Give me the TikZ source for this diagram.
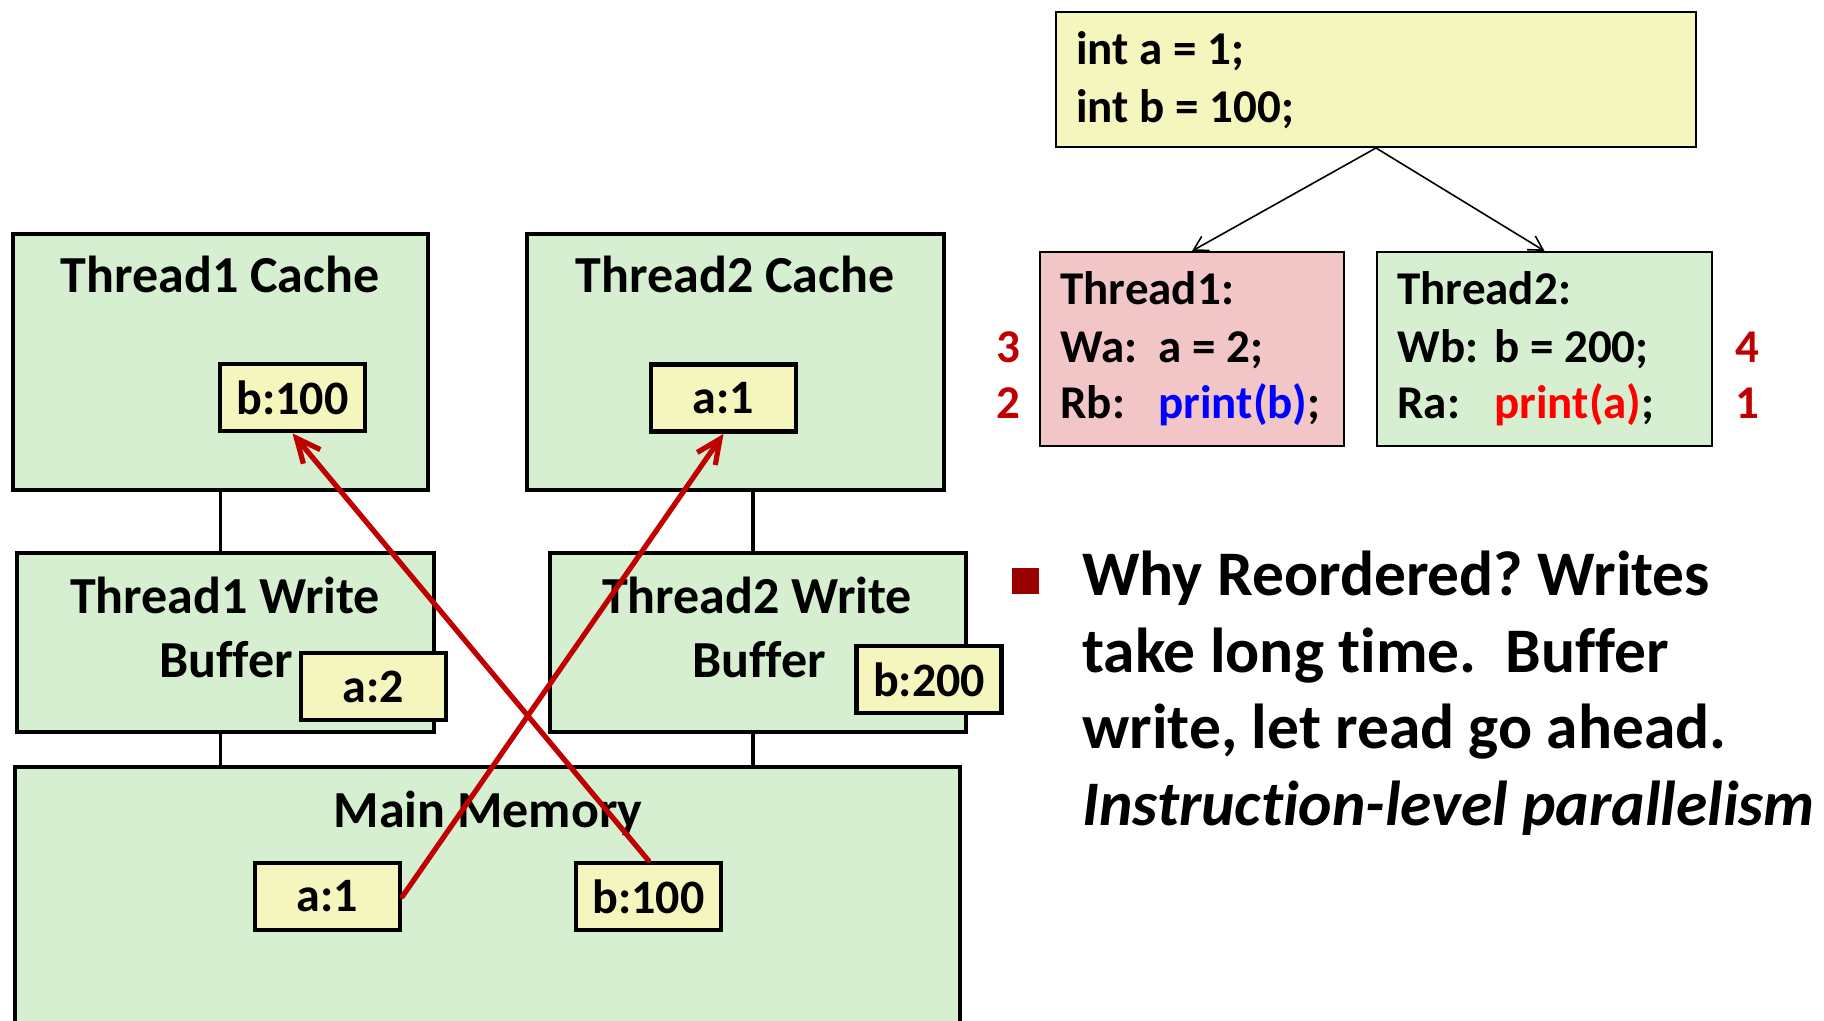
\documentclass[tikz,border=0pt]{standalone}
\usepackage{fontspec}
\setmainfont{Carlito}[RawFeature={-liga;-calt;-clig;-dlig}]
\usetikzlibrary{arrows.meta}
\definecolor{memgreen}{RGB}{214,239,208}
\definecolor{valyellow}{RGB}{245,245,190}
\definecolor{thrpink}{RGB}{242,198,198}
\definecolor{stepred}{RGB}{192,0,0}
\definecolor{bulletred}{RGB}{153,0,0}
\frenchspacing

\begin{document}
\begin{tikzpicture}[x=0.5pt,y=-0.5pt,
	every node/.style={font=\bfseries},
	unitnode/.style={draw,line width=2.4pt,fill=memgreen,inner sep=0pt},
	valnode/.style={draw,line width=2.4pt,fill=valyellow,inner sep=0pt,
		minimum width=72.5pt,minimum height=33.5pt,
		font=\fontsize{24}{24}\selectfont\bfseries},
	codenode/.style={draw,line width=1pt,inner sep=0pt},
	titletext/.style={inner sep=0pt,anchor=base,font=\fontsize{26}{26}\selectfont\bfseries},
	codetext/.style={inner sep=0pt,anchor=base west,font=\fontsize{23.5}{23.5}\selectfont\bfseries},
	steptext/.style={inner sep=0pt,anchor=base,text=stepred,font=\fontsize{23.5}{23.5}\selectfont\bfseries},
	bullettext/.style={inner sep=0pt,anchor=base west,font=\fontsize{31.75}{31.75}\selectfont\bfseries},
	linkline/.style={line width=1.9pt},
	forkarrow/.style={line width=0.8pt,-{Straight Barb[length=7pt,width=8pt]}},
	readarrow/.style={draw=stepred,line width=2.6pt,line cap=round,-{Straight Barb[length=12pt,width=11pt]}},
	]
	\useasboundingbox (0,0) rectangle (1824,1021);
	
	% the links between the levels
	\draw[linkline] (220.5,490) -- (220.5,767);
	\draw[linkline] (752.6,490) -- (752.6,767);
	
	% the caches
	\node[unitnode,minimum width=207.5pt,minimum height=128pt] (cacheA) at (220.5,362) {};
	\node[unitnode,minimum width=208.5pt,minimum height=128pt] (cacheB) at (735.5,362) {};
	\node[titletext] (cacheAtitle) at (220,293) {Thread1 Cache};
	\node[titletext] (cacheBtitle) at (735,293) {Thread2 Cache};
	
	% the write buffers
	\node[unitnode,minimum width=208.5pt,minimum height=89.5pt] (bufA) at (225.5,642.5) {};
	\node[unitnode,minimum width=208pt,minimum height=89.5pt] (bufB) at (758,642.5) {};
	\node[titletext] (bufAtitle) at (225,613) {Thread1 Write};
	\node[titletext] (bufAtitleb) at (226,677) {Buffer};
	\node[titletext] (bufBtitle) at (757,613) {Thread2 Write};
	\node[titletext] (bufBtitleb) at (759,677) {Buffer};
	
	% the main memory
	\node[unitnode,minimum width=472.5pt,minimum height=139pt] (mem) at (487.5,906) {};
	\node[titletext] (memtitle) at (488,827) {Main Memory};
	
	% the values
	\node[valnode] (cacheAb) at (292.5,397.5) {b:100};
	\node[valnode] (cacheBa) at (723.5,398) {a:1};
	\node[valnode] (bufAa) at (373.5,686.5) {a:2};
	\node[valnode] (bufBb) at (929,679.5) {b:200};
	\node[valnode] (memA) at (327.5,896.5) {a:1};
	\node[valnode] (memB) at (648.5,896.5) {b:100};
	
	% the reads
	\draw[readarrow] (memA.east) -- (cacheBa.south);
	\draw[readarrow] (memB.north) -- (cacheAb.south);
	
	% the program
	\node[codenode,fill=valyellow,minimum width=320pt,minimum height=67.5pt] (code) at (1376,79.5) {};
	\node[codetext] (codea) at (1076,65) {int a = 1;};
	\node[codetext] (codeb) at (1076,123) {int b = 100;};
	
	\node[codenode,fill=thrpink,minimum width=152pt,minimum height=97pt] (thrA) at (1192,349) {};
	\node[codenode,fill=memgreen,minimum width=167.5pt,minimum height=97pt] (thrB) at (1544.5,349) {};
	
	\node[codetext] (thrAtitle) at (1060,305) {Thread1:};
	\node[codetext] (thrAw) at (1060,363) {Wa:};
	\node[codetext] (thrAwop) at (1158,363) {a = 2;};
	\node[codetext] (thrAr) at (1060,418) {Rb:};
	\node[codetext] (thrArop) at (1158,418) {\textcolor{blue}{print(b)};};
	
	\node[codetext] (thrBtitle) at (1397,305) {Thread2:};
	\node[codetext] (thrBw) at (1397,363) {Wb:};
	\node[codetext] (thrBwop) at (1494,363) {b = 200;};
	\node[codetext] (thrBr) at (1397,418) {Ra:};
	\node[codetext] (thrBrop) at (1494,418) {\textcolor{red}{print(a)};};
	
	% the order of the steps
	\node[steptext] (stepA) at (1008,363) {3};
	\node[steptext] (stepB) at (1008,418) {2};
	\node[steptext] (stepC) at (1747,363) {4};
	\node[steptext] (stepD) at (1747,418) {1};
	
	\draw[forkarrow] (code.south) -- (thrA.north);
	\draw[forkarrow] (code.south) -- (thrB.north);
	
	% the bullet
	\node[fill=bulletred,inner sep=0pt,minimum width=13.5pt,minimum height=13pt] (bullet) at (1025.5,581) {};
	\node[bullettext] (linea) at (1082,595) {Why Reordered? Writes};
	\node[bullettext] (lineb) at (1082,672) {take long time.~~Buffer};
	\node[bullettext] (linec) at (1082,748) {write, let read go ahead.};
	\node[bullettext] (lined) at (1082,825) {\itshape Instruction-level parallelism};
\end{tikzpicture}
\end{document}
